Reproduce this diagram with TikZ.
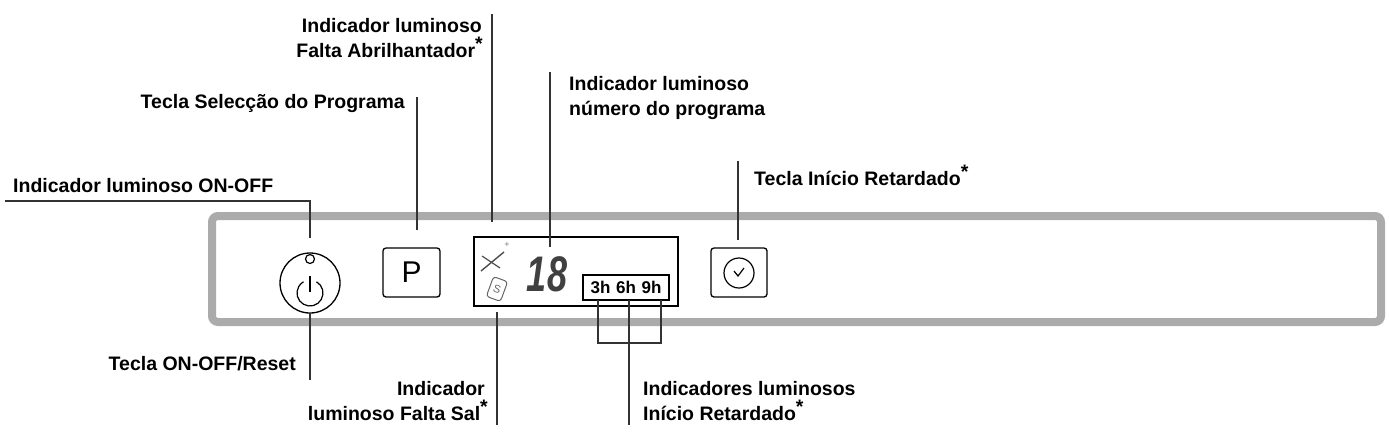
\documentclass[tikz,border=0pt]{standalone}
\usepackage{fontspec}
\setmainfont{Liberation Sans}
\newcommand{\starmark}{\raisebox{0.35em}{*}}
\begin{document}
\begin{tikzpicture}[x=1pt,y=-1pt,
  lbl/.style={font=\fontsize{19.5}{22}\selectfont\bfseries, inner sep=0pt},
  lead/.style={line width=1.2pt, black!80},
  keybox/.style={draw, line width=1.3pt, rounded corners=3pt, inner sep=0pt}]
\useasboundingbox (0,0) rectangle (1389,432);
% panel
\draw[line width=8pt, black!33, rounded corners=6pt] (212,216) rectangle (1381,322);
% power key
\node[circle, draw, line width=1.3pt, minimum size=60pt, inner sep=0pt] (pwr) at (310,283) {};
\draw[line width=1.2pt] (310,259) circle (4.5);
\draw[line width=1.2pt] ([shift={(-60:13)}]310,293) arc[start angle=-60,end angle=240,radius=13];
\draw[line width=1.2pt] (310,276) -- (310,292);
% program key
\node[keybox, minimum width=57pt, minimum height=49pt] (pkey) at (411.5,272.5) {\fontsize{30}{30}\selectfont P};
% display
\node[draw, line width=1.3pt, minimum width=204pt, minimum height=69pt, inner sep=0pt] (disp) at (576,271.5) {};
\draw[black!70, line width=1.4pt] (481,271) -- (504,252);
\draw[black!70, line width=1.2pt] (482,256) -- (500,268);
\node[black!50, font=\fontsize{9}{9}\selectfont, inner sep=0pt] (spark) at (507,245) {+};
\node[draw, black!60, line width=1pt, rounded corners=3pt, rotate=-20, minimum width=15pt, minimum height=21pt, inner sep=0pt, font=\fontsize{11}{11}\selectfont] (salt) at (497,289) {S};
\node[text=black!75, inner sep=0pt] (num) at (547,274) {\scalebox{0.72}[1]{\fontsize{50}{50}\selectfont\bfseries\itshape 18}};
\node[draw, line width=1.3pt, inner sep=0pt, minimum width=86pt, minimum height=25pt, font=\fontsize{17}{17}\selectfont\bfseries] (hrs) at (626,287.5) {3h\,\,6h\,\,9h};
% delay key
\node[keybox, minimum width=56pt, minimum height=49pt] (delay) at (739,272.5) {};
\node[circle, draw, line width=1.2pt, minimum size=30pt, inner sep=0pt] (clock) at (739,273) {};
\draw[line width=1.2pt] (734,271) -- (738,276) -- (744,268);
% labels top
\node[lbl, anchor=base west] (lonoff) at (13,192) {Indicador luminoso ON-OFF};
\coordinate (conoff) at (310,238);
\draw[lead] (5,201) -| (conoff);
\node[lbl, anchor=base east] (lprog) at (405,108) {Tecla Selecção do Programa};
\coordinate (cprog1) at (417,97); \coordinate (cprog2) at (417,230);
\draw[lead] (cprog1) -- (cprog2);
\node[lbl, anchor=base east] (lrin1) at (482,32) {Indicador luminoso};
\node[lbl, anchor=base east] (lrin2) at (483,57) {Falta Abrilhantador\starmark};
\coordinate (crin1) at (492,14); \coordinate (crin2) at (492,222);
\draw[lead] (crin1) -- (crin2);
\node[lbl, anchor=base west] (lnum1) at (569,90) {Indicador luminoso};
\node[lbl, anchor=base west] (lnum2) at (569,115) {número do programa};
\coordinate (cnum1) at (550,72); \coordinate (cnum2) at (550,247);
\draw[lead] (cnum1) -- (cnum2);
\node[lbl, anchor=base west] (ldel) at (754,185) {Tecla Início Retardado\starmark};
\coordinate (cdel1) at (738,161); \coordinate (cdel2) at (738,240);
\draw[lead] (cdel1) -- (cdel2);
% labels bottom
\node[lbl, anchor=base east] (lreset) at (296,370) {Tecla ON-OFF/Reset};
\coordinate (cres1) at (310,313); \coordinate (cres2) at (310,380);
\draw[lead] (cres1) -- (cres2);
\node[lbl, anchor=base east] (lsal1) at (485,395) {Indicador};
\node[lbl, anchor=base east] (lsal2) at (488,420) {luminoso Falta Sal\starmark};
\coordinate (csal1) at (497,312); \coordinate (csal2) at (497,425);
\draw[lead] (csal1) -- (csal2);
\node[lbl, anchor=base west] (lind1) at (643,395) {Indicadores luminosos};
\node[lbl, anchor=base west] (lind2) at (643,420) {Início Retardado\starmark};
\coordinate (h3) at (598,300); \coordinate (h6) at (629,300); \coordinate (h9) at (661,300);
\coordinate (hb) at (629,425);
\draw[lead] (h3) |- (629,343) -| (h9);
\draw[lead] (h6) -- (hb);
\end{tikzpicture}
\end{document}
